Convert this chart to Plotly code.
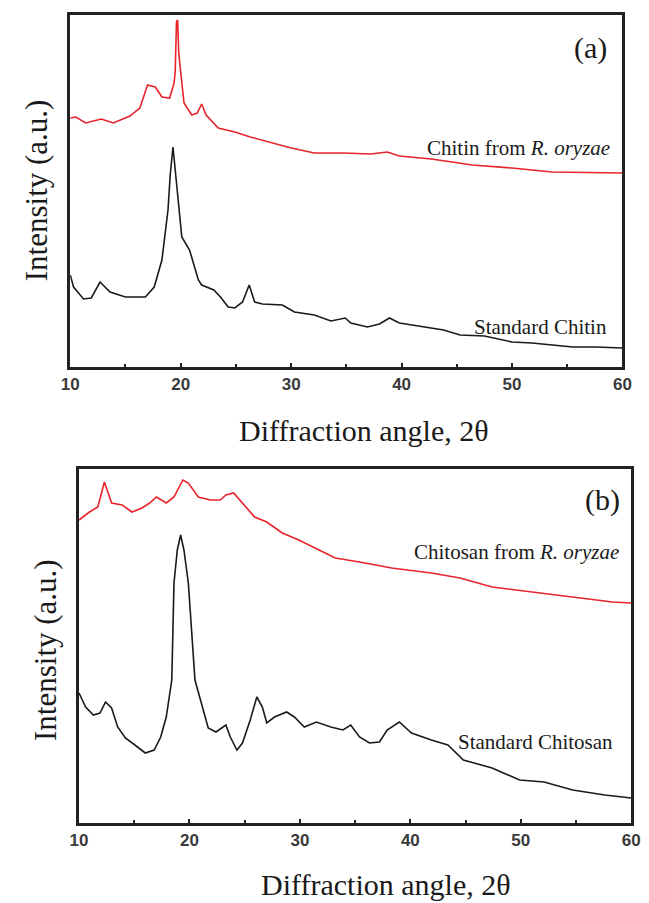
import plotly.graph_objects as go

# ---------------- data (2theta in degrees, intensity in a.u.) ----------------
chitin_ro_x = [10.0, 10.5, 11.4, 12.8, 13.9, 15.4, 16.3, 17.0, 17.7, 18.3, 19.0, 19.4, 19.5,
               19.62, 19.72, 19.82, 19.95, 20.3, 21.0, 21.5, 21.9, 22.3, 23.4, 24.9, 26.3,
               28.1, 30.0, 32.1, 34.7, 37.2, 38.7, 39.8, 42.7, 46.4, 50.0, 53.6, 57.3, 60.0]
chitin_ro_y = [249, 250, 244, 248, 244, 251, 259, 282, 280, 270, 269, 284, 295,
               345, 347, 315, 300, 264, 252, 254, 263, 252, 239, 235, 230,
               225, 219, 214, 214, 213, 215, 211, 208, 202, 199, 195, 194, 194]

chitin_std_x = [10.0, 10.3, 11.2, 11.9, 12.7, 13.6, 15.0, 16.8, 17.6, 18.3, 18.85, 19.05,
                19.3, 19.55, 19.75, 20.1, 20.8, 21.6, 21.9, 23.0, 23.6, 24.3, 24.9, 25.6,
                26.2, 26.7, 27.4, 29.2, 30.3, 32.1, 33.6, 34.9, 35.4, 36.9, 38.0, 38.9,
                39.8, 40.9, 42.7, 43.8, 45.3, 47.5, 50.0, 51.8, 55.5, 57.6, 60.0]
chitin_std_y = [92, 80, 68, 69, 85, 75, 70, 70, 80, 107, 157, 192,
                220, 192, 167, 130, 117, 87, 82, 77, 70, 60, 59, 65,
                82, 65, 63, 62, 55, 52, 46, 49, 44, 40, 43, 49,
                44, 42, 39, 37, 32, 31, 25, 24, 20, 20, 19]

chitosan_ro_x = [10.0, 10.95, 11.7, 12.3, 12.95, 13.9, 14.8, 15.7, 16.4, 17.0, 17.9, 18.6,
                 19.4, 19.9, 20.8, 21.9, 22.8, 23.3, 24.0, 24.8, 25.9, 27.0, 28.4, 29.9,
                 31.7, 33.2, 35.4, 38.3, 41.9, 44.5, 47.4, 51.0, 54.7, 58.3, 60.0]
chitosan_ro_y = [303, 311, 316, 341, 320, 318, 311, 315, 320, 326, 320, 326,
                 343, 340, 326, 323, 323, 328, 330, 320, 306, 301, 290, 283,
                 273, 265, 261, 255, 250, 245, 236, 231, 226, 221, 220]

chitosan_std_x = [10.0, 10.6, 11.3, 11.9, 12.4, 12.95, 13.5, 14.2, 15.3, 16.0, 16.8, 17.4,
                  17.9, 18.4, 18.6, 18.9, 19.2, 19.5, 19.9, 20.5, 21.0, 21.7, 22.4, 23.3,
                  23.7, 24.3, 24.8, 25.5, 26.1, 26.6, 27.0, 27.7, 28.8, 29.5, 30.4, 31.5,
                  32.8, 33.9, 34.6, 35.4, 36.3, 37.2, 37.9, 39.0, 40.1, 41.9, 43.4, 44.8,
                  47.4, 49.9, 52.1, 54.7, 57.6, 60.0]
chitosan_std_y = [130, 116, 108, 110, 121, 115, 96, 85, 76, 70, 73, 86,
                  106, 143, 240, 273, 288, 273, 240, 143, 123, 95, 91, 98,
                  86, 73, 80, 103, 126, 116, 100, 106, 111, 106, 96, 101,
                  96, 93, 98, 86, 80, 81, 93, 101, 90, 83, 78, 63,
                  55, 43, 41, 33, 28, 25]

x_tick_vals = [10, 20, 30, 40, 50, 60]
x_tick_text = ["10", "20", "30", "40", "50", "60"]

# ---------------- layout helpers ----------------
W, H = 649, 903
def px(x):
    return x / W
def py(y):
    return 1 - y / H

RED = "#e8232a"
BLACK = "#1a1a1a"
AX = "#222222"
SERIF = "Liberation Serif"

fig = go.Figure()
fig.add_trace(go.Scatter(x=chitin_ro_x, y=chitin_ro_y, mode="lines",
                         line=dict(color=RED, width=1.6), xaxis="x", yaxis="y", showlegend=False))
fig.add_trace(go.Scatter(x=chitin_std_x, y=chitin_std_y, mode="lines",
                         line=dict(color=BLACK, width=1.6), xaxis="x", yaxis="y", showlegend=False))
fig.add_trace(go.Scatter(x=chitosan_ro_x, y=chitosan_ro_y, mode="lines",
                         line=dict(color=RED, width=1.6), xaxis="x2", yaxis="y2", showlegend=False))
fig.add_trace(go.Scatter(x=chitosan_std_x, y=chitosan_std_y, mode="lines",
                         line=dict(color=BLACK, width=1.6), xaxis="x2", yaxis="y2", showlegend=False))

xcommon = dict(range=[10, 60], showline=True, mirror=True, linecolor=AX, linewidth=2.5,
               ticks="inside", ticklen=4, tickwidth=1.5, tickcolor=AX,
               tickvals=x_tick_vals, ticktext=x_tick_text,
               minor=dict(ticks="inside", ticklen=3, tickwidth=1.5, tickcolor=AX, dtick=5, tick0=10),
               tickfont=dict(family="Liberation Sans", size=17, color="#3a3a3a", weight="bold"),
               showgrid=False, zeroline=False, fixedrange=True)
ycommon = dict(showline=True, mirror=True, linecolor=AX, linewidth=2.5, ticks="",
               showticklabels=False, showgrid=False, zeroline=False, fixedrange=True)

fig.update_layout(
    width=W, height=H, margin=dict(l=0, r=0, t=0, b=0),
    paper_bgcolor="white", plot_bgcolor="white",
    xaxis=dict(domain=[px(63), px(631)], anchor="y", **xcommon),
    yaxis=dict(domain=[py(367), py(15)], anchor="x", range=[0, 352], **ycommon),
    xaxis2=dict(domain=[px(72), px(640)], anchor="y2", **xcommon),
    yaxis2=dict(domain=[py(823), py(469)], anchor="x2", range=[0, 354], **ycommon),
)

def ann(text, x, y, size, xanchor="center", angle=0):
    fig.add_annotation(text=text, xref="paper", yref="paper", x=px(x), y=py(y),
                       xanchor=xanchor, yanchor="middle", showarrow=False, textangle=angle,
                       font=dict(family=SERIF, size=size, color="#1a1a1a"))

ann("(a)", 598, 48, 30)
ann("(b)", 610, 500, 30)
ann("Chitin from <i>R. oryzae</i>", 620, 148, 21, xanchor="right")
ann("Standard Chitin", 617, 327, 21, xanchor="right")
ann("Chitosan from <i>R. oryzae</i>", 629, 552, 21, xanchor="right")
ann("Standard Chitosan", 623, 742, 21, xanchor="right")
ann("Diffraction angle, 2θ", 365, 430, 30)
ann("Diffraction angle, 2θ", 388, 884, 30)
ann("Intensity (a.u.)", 28, 190, 31, angle=-90)
ann("Intensity (a.u.)", 37, 650, 31, angle=-90)

fig.write_html("out.html")
